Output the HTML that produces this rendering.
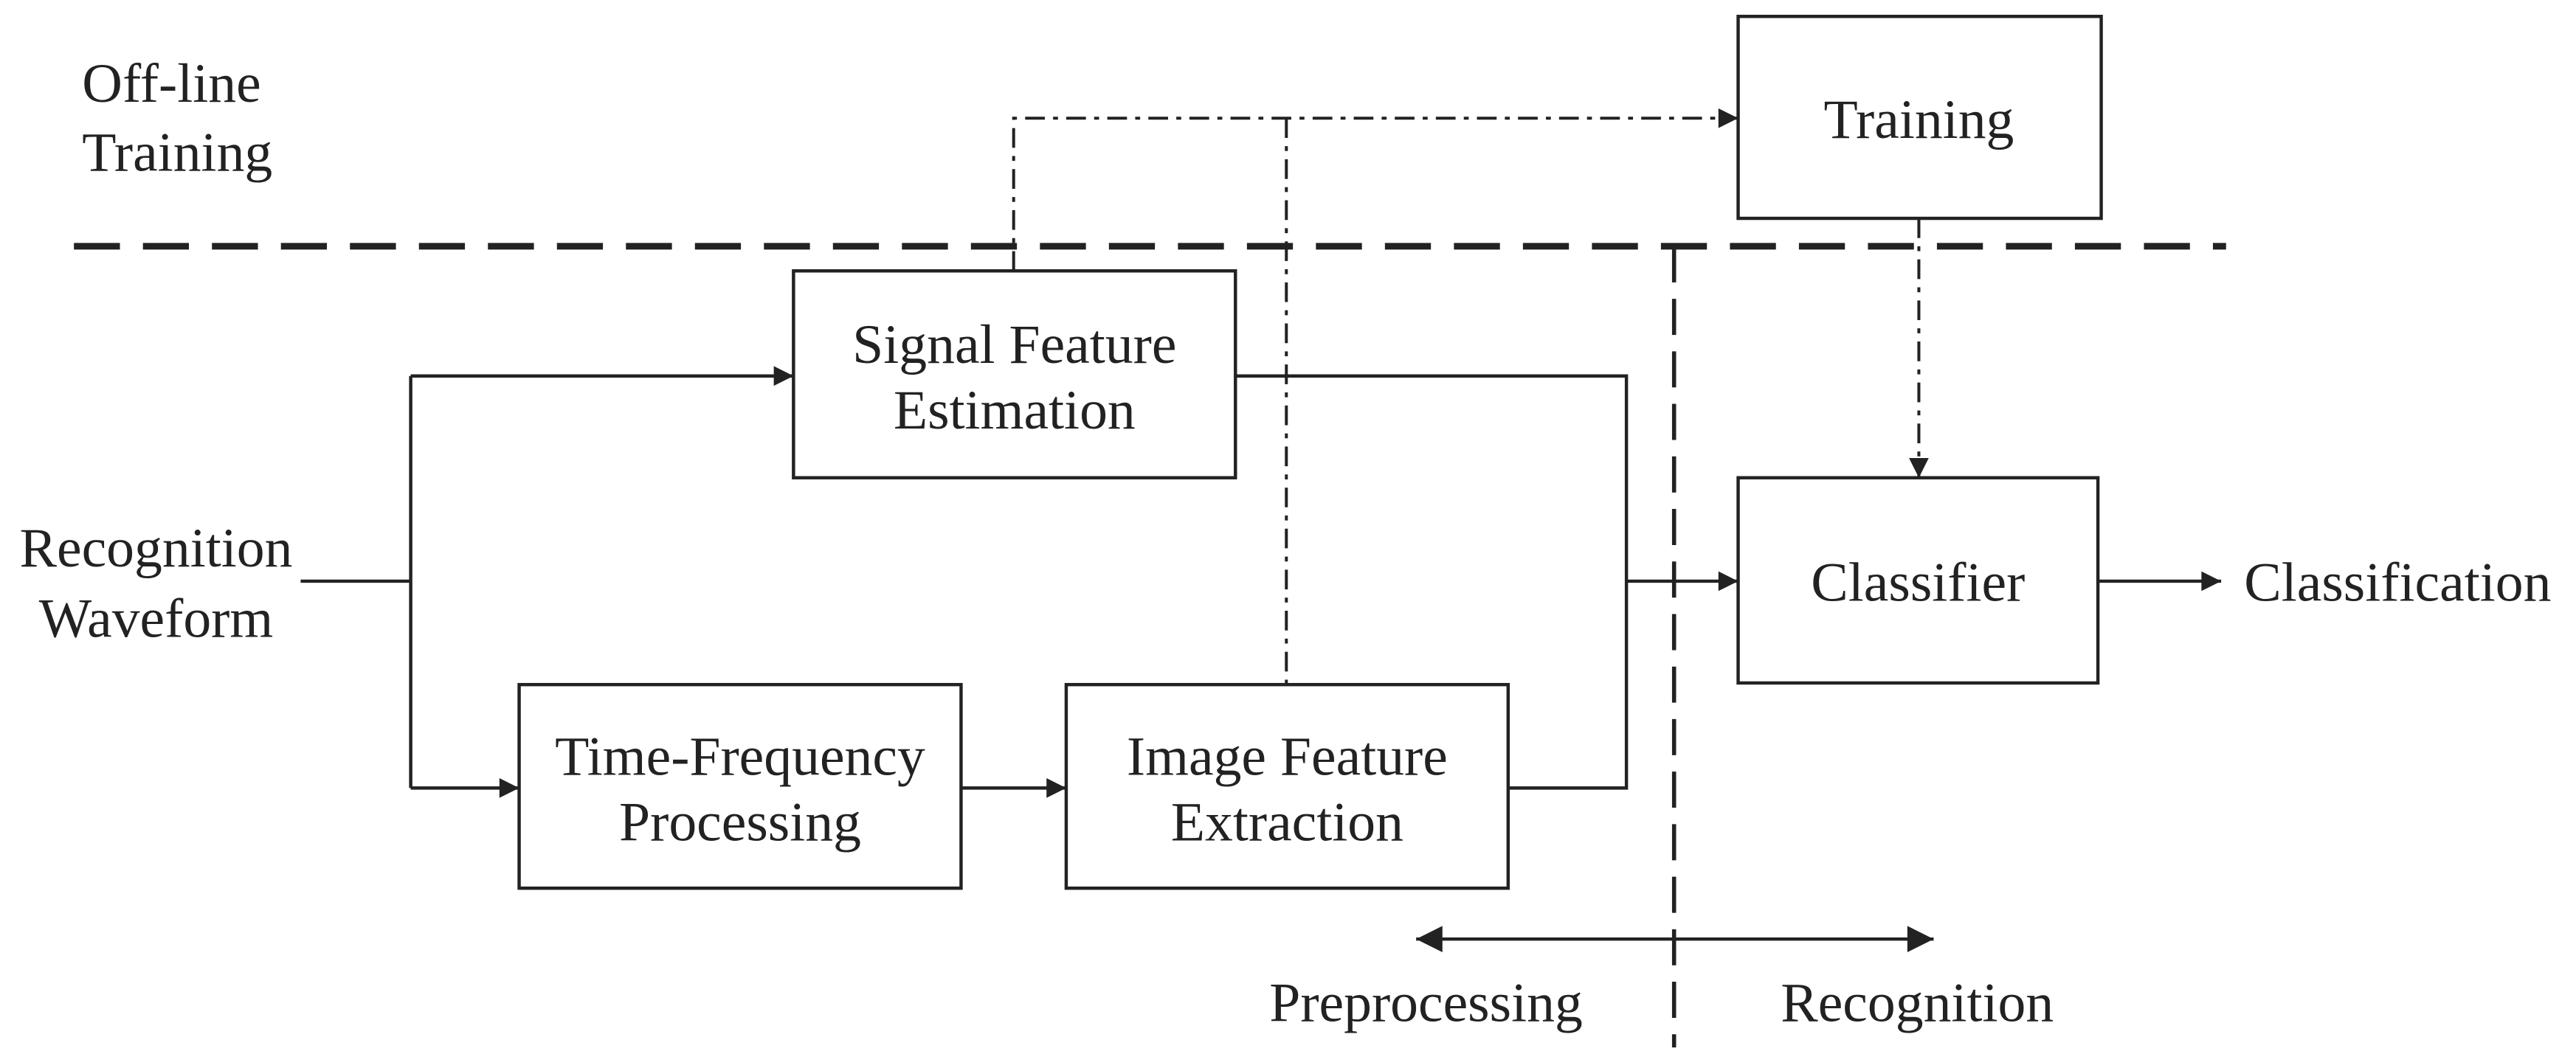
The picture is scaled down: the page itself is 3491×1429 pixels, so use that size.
<!DOCTYPE html>
<html><head><meta charset="utf-8"><style>
html,body{margin:0;padding:0;background:#fff;}
svg{display:block;}
text{font-family:"Liberation Serif",serif;font-size:34px;fill:#222;}
</style></head><body>
<svg width="3491" height="1429" viewBox="0 0 1568 642" preserveAspectRatio="none" xmlns="http://www.w3.org/2000/svg">
<defs>
<marker id="a" viewBox="0 0 10 10" refX="10" refY="5" markerWidth="18" markerHeight="12" markerUnits="userSpaceOnUse" orient="auto">
<path d="M0,0 L10,5 L0,10 z" fill="#222"/></marker>
<marker id="b" viewBox="0 0 10 10" refX="0" refY="5" markerWidth="22" markerHeight="16" markerUnits="userSpaceOnUse" orient="auto">
<path d="M10,0 L0,5 L10,10 z" fill="#222"/></marker>
<marker id="c" viewBox="0 0 10 10" refX="10" refY="5" markerWidth="22" markerHeight="16" markerUnits="userSpaceOnUse" orient="auto">
<path d="M0,0 L10,5 L0,10 z" fill="#222"/></marker>
</defs>
<g stroke="#222" fill="none">
<line x1="45" y1="150" x2="1355" y2="150" stroke-width="4" stroke-dasharray="28,14"/>
<line x1="1019" y1="150" x2="1019" y2="638" stroke-width="2.5" stroke-dasharray="22,10"/>
<g stroke-width="2">
<rect x="1058" y="10" width="221" height="123"/>
<rect x="483" y="165" width="269" height="126"/>
<rect x="316" y="417" width="269" height="124"/>
<rect x="649" y="417" width="269" height="124"/>
<rect x="1058" y="291" width="219" height="125"/>
</g>
<g stroke-width="2">
<polyline points="183,354 250,354"/>
<polyline points="250,229 250,480"/>
<line x1="250" y1="229" x2="483" y2="229" marker-end="url(#a)"/>
<line x1="250" y1="480" x2="316" y2="480" marker-end="url(#a)"/>
<line x1="585" y1="480" x2="649" y2="480" marker-end="url(#a)"/>
<polyline points="752,229 990,229 990,480 918,480"/>
<line x1="990" y1="354" x2="1058" y2="354" marker-end="url(#a)"/>
<line x1="1277" y1="354" x2="1352" y2="354" marker-end="url(#a)"/>
<line x1="862" y1="572" x2="1177" y2="572" marker-start="url(#b)" marker-end="url(#c)"/>
</g>
<g stroke-width="1.8" stroke-dasharray="12,5,3,5">
<polyline points="617,165 617,72 1058,72" marker-end="url(#a)"/>
<line x1="783" y1="72" x2="783" y2="417"/>
<line x1="1168" y1="133" x2="1168" y2="291" marker-end="url(#a)"/>
</g>
</g>
<text x="50" y="62">Off-line</text>
<text x="50" y="104">Training</text>
<text x="1168" y="84" text-anchor="middle">Training</text>
<text x="617.5" y="221" text-anchor="middle">Signal Feature</text>
<text x="617.5" y="261" text-anchor="middle">Estimation</text>
<text x="450.5" y="472" text-anchor="middle">Time-Frequency</text>
<text x="450.5" y="512" text-anchor="middle">Processing</text>
<text x="783.5" y="472" text-anchor="middle">Image Feature</text>
<text x="783.5" y="512" text-anchor="middle">Extraction</text>
<text x="1167.5" y="366" text-anchor="middle">Classifier</text>
<text x="95" y="345" text-anchor="middle">Recognition</text>
<text x="95" y="388" text-anchor="middle">Waveform</text>
<text x="1366" y="366">Classification</text>
<text x="868" y="622" text-anchor="middle">Preprocessing</text>
<text x="1167" y="622" text-anchor="middle">Recognition</text>
</svg>
</body></html>
